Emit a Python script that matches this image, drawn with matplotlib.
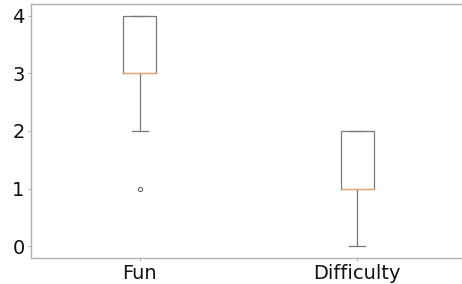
import matplotlib
matplotlib.use("Agg")
import matplotlib.pyplot as plt

categories = ["Fun", "Difficulty"]
fun_scores = [1, 2, 3, 3, 3, 3, 4, 4, 4]
difficulty_scores = [0, 1, 1, 1, 1, 2, 2, 2, 2]
yticks = [0, 1, 2, 3, 4]

fig = plt.figure(figsize=(4.62, 2.84), dpi=100)
ax = fig.add_axes([31/462, 1 - 258/284, 435/462, 254/284])

gray = "#7a7a7a"
ax.boxplot([fun_scores, difficulty_scores], widths=0.15,
           boxprops=dict(color=gray, linewidth=0.9),
           whiskerprops=dict(color=gray, linewidth=0.9),
           capprops=dict(color=gray, linewidth=0.9),
           medianprops=dict(color="#f5a46b", linewidth=0.9),
           flierprops=dict(marker="o", markersize=3, markerfacecolor="none",
                           markeredgecolor="#555555", markeredgewidth=0.7))

ax.set_xticks([1, 2])
ax.set_xticklabels(categories)
ax.set_yticks(yticks)
ax.tick_params(axis="both", labelsize=14, length=2, color="#b0b0b0",
               labelcolor="#111111", pad=2.5)
for side in ["left", "top", "bottom"]:
    ax.spines[side].set_color("#b0b0b0")
    ax.spines[side].set_linewidth(1.0)
ax.spines["right"].set_visible(False)

fig.savefig("out.png", dpi=100)
